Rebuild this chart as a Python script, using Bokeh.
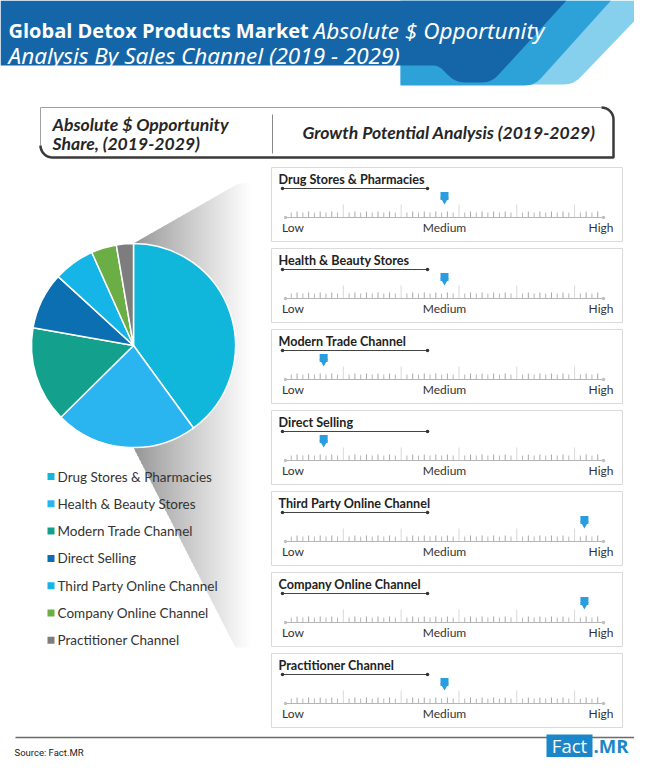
import numpy as np
from bokeh.plotting import figure
from bokeh.models import Range1d, ColumnDataSource, Label
from bokeh.core.properties import value
from bokeh.embed import file_html
from bokeh.resources import INLINE

# ---------------- data ----------------
channels = ["Drug Stores & Pharmacies", "Health & Beauty Stores", "Modern Trade Channel",
            "Direct Selling", "Third Party Online Channel", "Company Online Channel",
            "Practitioner Channel"]
share = [40.0, 22.6, 15.2, 9.0, 6.5, 4.0, 2.7]          # absolute $ opportunity share (%)
growth = [50, 50, 12, 12, 94, 94, 50]                   # position on Low(0) - High(100) scale
scale_labels = ["Low", "Medium", "High"]
scale_pos = [0, 50, 100]
colors = ["#10b7da", "#2ab4f0", "#13a18d", "#0b6fb1", "#15b5e8", "#6aae45", "#7d7d7d"]

title_bold = "Global Detox Products Market"
title_it1 = "Absolute $ Opportunity"
title_it2 = "Analysis By Sales Channel (2019 - 2029)"
header_left = ["Absolute $ Opportunity", "Share, (2019-2029)"]
header_right = "Growth Potential Analysis (2019-2029)"
source_text = "Source: Fact.MR"

# ---------------- figure (data units == picture pixels) ----------------
FW, FH = 634, 757
def Y(v):
    return FH - np.asarray(v, dtype=float)

p = figure(width=FW, height=FH, x_range=Range1d(0, FW), y_range=Range1d(0, FH),
           output_backend="svg", toolbar_location=None,
           x_axis_location=None, y_axis_location=None, min_border=0)
p.grid.visible = False
p.outline_line_color = None
p.background_fill_color = "white"
p.border_fill_color = "white"

G0, G1 = 285.0, 603.0
k = (G1 - G0) / 100.0
p.extra_x_ranges = {"gauge": Range1d((0 - G0) / k, (FW - G0) / k)}

def rounded(pts, radii, n=8):
    out = []
    m = len(pts)
    for i, (px, py) in enumerate(pts):
        r = radii[i]
        if r == 0:
            out.append((px, py))
            continue
        ax, ay = pts[i - 1]
        bx, by = pts[(i + 1) % m]
        da = np.hypot(ax - px, ay - py)
        db = np.hypot(bx - px, by - py)
        p0 = (px + (ax - px) * r / da, py + (ay - py) * r / da)
        p2 = (px + (bx - px) * r / db, py + (by - py) * r / db)
        for t in np.linspace(0, 1, n):
            x = (1 - t) ** 2 * p0[0] + 2 * (1 - t) * t * px + t ** 2 * p2[0]
            y = (1 - t) ** 2 * p0[1] + 2 * (1 - t) * t * py + t ** 2 * p2[1]
            out.append((x, y))
    return out

def poly(pts, color):
    xs = [a for a, b in pts]
    ys = list(Y([b for a, b in pts]))
    p.patch(xs, ys, fill_color=color, line_color=None)

# ---------------- title banner ----------------
s = 0.9
poly(rounded([(400, 0), (573 + s * 84 + 5, 0), (573, 84), (527, 84), (400, 84)], [0, 0, 10, 8, 0]), "#86d0ee")
poly(rounded([(400, 0), (534 + s * 85, 0), (534, 85), (486, 85), (400, 85)], [0, 0, 10, 8, 0]), "#2da2d9")
poly(rounded([(0, 0), (566, 0), (491, 82), (455, 82), (438, 65), (0, 65)], [0, 0, 10, 10, 6, 0]), "#1566a8")

p.text(x=[8], y=[Y(30)], text=[title_bold], text_font=value("Open Sans"), text_font_style="bold",
       text_font_size="20px", text_color="white", text_baseline="alphabetic", text_align="left")
p.add_layout(Label(x=313, y=float(Y(30)), text=title_it1, text_font="Noto Sans", text_font_style="italic",
                   text_font_size="22.5px", text_color="white", text_baseline="alphabetic",
                   text_align="left"))
p.add_layout(Label(x=8, y=float(Y(55)), text=title_it2, text_font="Noto Sans", text_font_style="italic",
                   text_font_size="22.5px", text_color="white", text_baseline="alphabetic",
                   text_align="left"))

# ---------------- header box ----------------
def arc(cx, cy, r, a0, a1, n=10):
    a = np.radians(np.linspace(a0, a1, n))
    return list(cx + r * np.cos(a)), list(cy + r * np.sin(a))

bx0, by0, bx1, by1, rr = 40, 107, 613, 157, 12
p.line([bx0, bx0, bx1 - rr], list(Y([by1 - rr, by0, by0])), line_color="#a0a0a0", line_width=1)
ax1, ay1 = arc(bx1 - rr, by0 + rr, rr, -90, 0)
ax2, ay2 = arc(bx0 + rr, by1 - rr, rr, 90, 180)
xs = ax1 + [bx1, bx0 + rr] + ax2
ys = ay1 + [by1, by1] + ay2
p.line(xs, list(Y(ys)), line_color="#3a3a3a", line_width=2.5)
p.line([272, 272], list(Y([114, 153])), line_color="#8a8a8a", line_width=1)

p.text(x=[52, 52], y=list(Y([124, 143])), text=header_left, text_font=value("Lato"),
       text_font_style="bold italic", text_font_size="17.6px", text_color="#262626",
       text_baseline="middle", text_align="left")
p.text(x=[302], y=[Y(132)], text=[header_right], text_font=value("Lato"),
       text_font_style="bold italic", text_font_size="17.6px", text_color="#262626",
       text_baseline="middle", text_align="left")

# ---------------- pie shadow (gradient) ----------------
xs_l, xs_r, step = 133.0, 262.0, 2.0
sx = np.arange(xs_l, xs_r, step)
def top_y(x):
    return np.where(x < 238, 243 + (x - 133) * (183 - 243) / (238 - 133), 183)
def bot_y(x):
    return np.where(x < 235, 447 + (x - 133) * (647 - 447) / (235 - 133), 647)
sh_xs, sh_ys, sh_col = [], [], []
for x0 in sx:
    x1 = x0 + step + 0.6
    t = min(1.0, (x0 - xs_l) / (250.0 - xs_l))
    c = int(round(148 + (255 - 148) * t ** 0.9))
    sh_xs.append([x0, x1, x1, x0])
    sh_ys.append(list(Y([top_y(x0), top_y(x1), bot_y(x1), bot_y(x0)])))
    sh_col.append("#%02x%02x%02x" % (c, c, c))
p.patches(sh_xs, sh_ys, fill_color=sh_col, line_color=None)

# ---------------- pie ----------------
frac = np.array(share) / np.sum(share)
cum = np.concatenate([[0.0], np.cumsum(frac)])
pie = ColumnDataSource(dict(start=np.pi / 2 - 2 * np.pi * cum[:-1],
                            end=np.pi / 2 - 2 * np.pi * cum[1:],
                            color=colors, name=channels))
p.wedge(x=133, y=Y(345), radius=102, start_angle="start", end_angle="end", direction="clock",
        fill_color="color", line_color="white", line_width=1.5, source=pie)

# ---------------- legend ----------------
leg_y = Y(476 + 27.3 * np.arange(len(channels)))
p.scatter(x=[50.5] * len(channels), y=list(leg_y), marker="square", size=7,
          fill_color=colors, line_color=None)
p.text(x=[57] * len(channels), y=list(leg_y), text=channels, text_font=value("Lato"),
       text_font_size="13.5px", text_color="#333333", text_baseline="middle", text_align="left")

# ---------------- growth gauges ----------------
n = len(channels)
off = 81.0 * np.arange(n)
p.quad(left=271, right=622, top=list(Y(167 + off)), bottom=list(Y(241 + off)),
       fill_color="white", line_color="#dadada", line_width=1)
p.text(x=[278] * n, y=list(Y(179 + off)), text=channels, text_font=value("Lato"),
       text_font_style="bold", text_font_size="12.6px", text_color="#222222",
       text_baseline="middle", text_align="left")
p.segment(x0=282, x1=427, y0=list(Y(188 + off)), y1=list(Y(188 + off)), line_color="#444444", line_width=1)
p.scatter(x=[282] * n + [427] * n, y=list(Y(188 + off)) * 2, marker="circle", size=3.5,
          fill_color="#333333", line_color=None)

# ruler
tick_x = np.linspace(G0, G1, 56)
rx0, rx1, ry0, ry1, rcol = [], [], [], [], []
for r in range(n):
    base = 217 + off[r]
    for j, tx in enumerate(tick_x):
        if j in (0, len(tick_x) - 1):
            continue
        if j % 10 == 0:
            h, c = 13, "#d8d8d8"
        elif j % 2 == 0:
            h, c = 6, "#a8a8a8"
        else:
            h, c = 5, "#b8b8b8"
        rx0.append(tx); rx1.append(tx)
        ry0.append(float(Y(base))); ry1.append(float(Y(base - h)))
        rcol.append(c)
p.segment(x0=rx0, x1=rx1, y0=ry0, y1=ry1, line_color=rcol, line_width=1)
p.segment(x0=G0, x1=G1, y0=list(Y(217 + off)), y1=list(Y(217 + off)), line_color="#b5b5b5", line_width=1)
p.scatter(x=[G0] * n + [G1] * n, y=list(Y(217 + off)) * 2, marker="circle", size=3.5,
          fill_color="#c0c0c0", line_color=None)

# scale labels
for lab, pos, al, dx in zip(scale_labels, scale_pos, ["left", "center", "right"], [-3.5, 0, 10]):
    p.text(x=[pos] * n, y=list(Y(227 + off)), text=[lab] * n, x_range_name="gauge", x_offset=dx,
           text_font=value("Lato"), text_font_size="12px", text_color="#333333",
           text_baseline="middle", text_align=al)

# markers
gsrc = ColumnDataSource(dict(g=growth, ysq=list(Y(195.5 + off)), ytri=list(Y(199 + off))))
p.scatter(x="g", y="ysq", x_range_name="gauge", marker="square", size=8,
          fill_color="#2a9de0", line_color=None, source=gsrc)
p.scatter(x="g", y="ytri", x_range_name="gauge", marker="inverted_triangle", size=8.5,
          fill_color="#2a9de0", line_color=None, source=gsrc)

# ---------------- footer ----------------
p.line([15, 634], list(Y([737, 737])), line_color="#6a6a6a", line_width=1.5)
p.text(x=[14], y=[Y(752)], text=[source_text], text_font=value("Roboto"), text_font_size="9.5px",
       text_color="#222222", text_baseline="middle", text_align="left")
p.quad(left=546, right=592, top=Y(734), bottom=Y(757), fill_color="#1b87c9", line_color=None)
p.text(x=[569], y=[Y(745)], text=["Fact"], text_font=value("Open Sans"), text_font_size="18.5px",
       text_color="white", text_baseline="middle", text_align="center")
p.text(x=[593], y=[Y(745)], text=[".MR"], text_font=value("Open Sans"), text_font_style="bold",
       text_font_size="18.5px", text_color="#1b87c9", text_baseline="middle", text_align="left")

open("out.html", "w").write(file_html(p, INLINE))
